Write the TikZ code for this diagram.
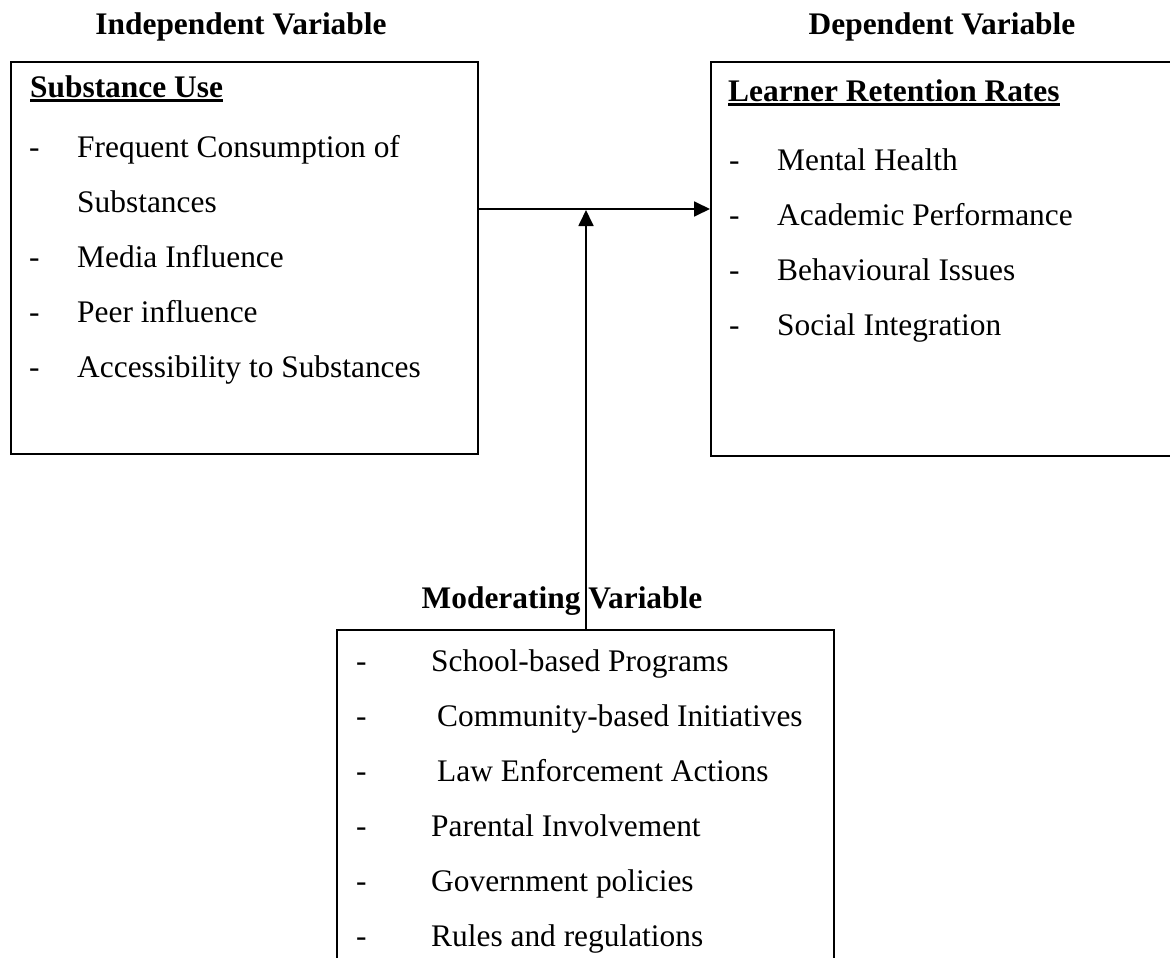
\documentclass[tikz,border=0pt]{standalone}
\usepackage{fontspec}
\setmainfont{Liberation Serif}
\usetikzlibrary{arrows.meta}
\begin{document}
\begin{tikzpicture}[x=1pt,y=-1pt,
  box/.style={draw, line width=1.6pt, inner sep=0pt, anchor=north west},
  txt/.style={inner sep=0pt, anchor=base west, font=\fontsize{31.4}{38}\selectfont},
  head/.style={inner sep=0pt, anchor=base, font=\fontsize{31.4}{38}\selectfont\bfseries},
  title/.style={inner sep=0pt, anchor=base west, font=\fontsize{31.4}{38}\selectfont\bfseries},
  uline/.style={line width=3pt},
  arr/.style={-{Triangle[length=16pt,width=15pt]}, line width=1.8pt}]
\useasboundingbox (0,0) rectangle (1170,958);
\clip (0,0) rectangle (1170,958);
\fill[white] (0,0) rectangle (1170,958);

% boxes
\node[box, minimum width=467pt, minimum height=392pt] (lbox) at (10,61) {};
\node[box, minimum width=480pt, minimum height=394pt] (rbox) at (710,61) {};
\node[box, minimum width=497pt, minimum height=400pt] (mbox) at (336,629) {};

% headings
\node[head] (iv) at (241,35) {Independent Variable};
\node[head] (dv) at (942,35) {Dependent Variable};
\node[head] (mv) at (562,608) {Moderating Variable};

% titles
\node[title] (t1) at (30,97) {Substance Use};
\draw[uline] ([yshift=-3.5pt]t1.base west) -- ([yshift=-3.5pt]t1.base east);
\node[title] (t2) at (728,101) {Learner Retention Rates};
\draw[uline] ([yshift=-3.5pt]t2.base west) -- ([yshift=-3.5pt]t2.base east);

% left items
\node[txt] (ld1) at (29,157) {-};
\node[txt] (l1) at (77,157) {Frequent Consumption of};
\node[txt] (l1b) at (77,212) {Substances};
\node[txt] (ld2) at (29,267) {-};
\node[txt] (l2) at (77,267) {Media Influence};
\node[txt] (ld3) at (29,322) {-};
\node[txt] (l3) at (77,322) {Peer influence};
\node[txt] (ld4) at (29,377) {-};
\node[txt] (l4) at (77,377) {Accessibility to Substances};

% right items
\node[txt] (rd1) at (729,170) {-};
\node[txt] (r1) at (777,170) {Mental Health};
\node[txt] (rd2) at (729,225) {-};
\node[txt] (r2) at (777,225) {Academic Performance};
\node[txt] (rd3) at (729,280) {-};
\node[txt] (r3) at (777,280) {Behavioural Issues};
\node[txt] (rd4) at (729,335) {-};
\node[txt] (r4) at (777,335) {Social Integration};

% bottom items
\node[txt] (md1) at (356,671) {-};
\node[txt] (m1) at (431,671) {School-based Programs};
\node[txt] (md2) at (356,726) {-};
\node[txt] (m2) at (437,726) {Community-based Initiatives};
\node[txt] (md3) at (356,781) {-};
\node[txt] (m3) at (437,781) {Law Enforcement Actions};
\node[txt] (md4) at (356,836) {-};
\node[txt] (m4) at (431,836) {Parental Involvement};
\node[txt] (md5) at (356,891) {-};
\node[txt] (m5) at (431,891) {Government policies};
\node[txt] (md6) at (356,946) {-};
\node[txt] (m6) at (431,946) {Rules and regulations};

% connectors
\coordinate (h) at (0,209);
\coordinate (v) at (586,210);
\draw[arr] (lbox.east |- h) -- (rbox.west |- h);
\draw[arr] (mbox.north -| v) -- (v);
\end{tikzpicture}
\end{document}
